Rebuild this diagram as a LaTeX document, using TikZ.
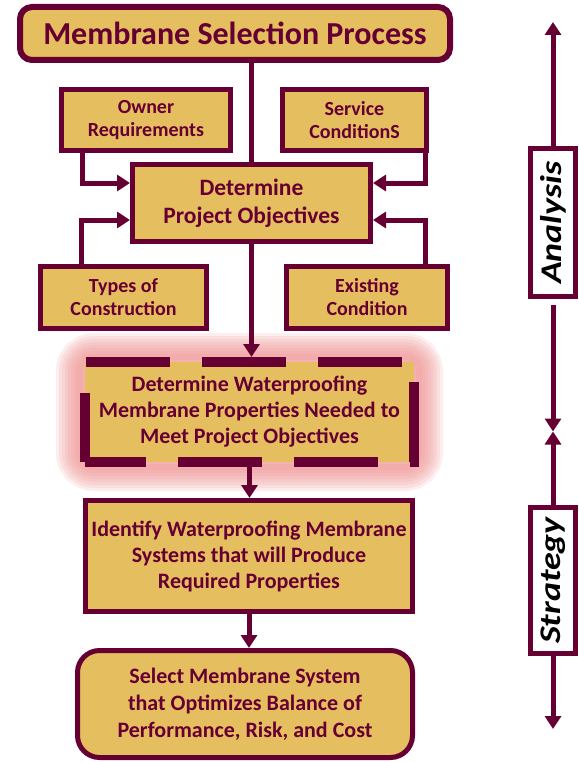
\documentclass[tikz,border=0pt]{standalone}
\usepackage{fontspec}
\setmainfont{Carlito}
\usetikzlibrary{arrows.meta,backgrounds}

\begin{document}
\begin{tikzpicture}[x=1pt, y=-1pt,
  stage/.style={draw=wine, fill=boxgold, line width=5pt, text=wine, align=center, inner sep=0pt},
  small/.style={font=\fontsize{20}{23}\selectfont\bfseries},
  large/.style={font=\fontsize{22}{26}\selectfont\bfseries},
  flow/.style={wine, line width=5pt, -{Triangle[width=16pt,length=13pt]}},
  phase/.style={draw=wine, fill=white, line width=5pt, rotate=90, inner sep=0pt,
    font=\fontsize{30}{32}\selectfont\bfseries\itshape}]
  % Define colors
  \definecolor{wine}{RGB}{102,0,51}
  \definecolor{boxgold}{RGB}{229,190,95}
  \definecolor{glowpink}{RGB}{238,140,140}

  \useasboundingbox (0,0) rectangle (578,762);

  % Title
  \node[stage, line width=6pt, rounded corners=12pt, minimum width=430pt, minimum height=53pt,
    font=\fontsize{32}{38}\selectfont\bfseries] (title) at (235,33.5) {Membrane Selection Process};

  % Inputs and objectives
  \node[stage, small, minimum width=169pt, minimum height=61pt] (owner) at (146,120) {Owner\\Requirements};
  \node[stage, small, minimum width=144pt, minimum height=61pt] (service) at (354.5,120) {Service\\ConditionS};
  \node[stage, minimum width=238pt, minimum height=77pt,
    font=\fontsize{23.5}{28}\selectfont\bfseries] (objectives) at (251.5,203) {Determine\\Project Objectives};
  \node[stage, small, minimum width=166pt, minimum height=62pt] (types) at (123.5,297.5) {Types of\\Construction};
  \node[stage, small, minimum width=161pt, minimum height=62pt] (existing) at (367,297.5) {Existing\\Condition};

  % Properties, systems, selection
  \node[stage, large, line width=10pt, dash pattern=on 84pt off 32pt, dash phase=23pt,
    minimum width=329pt, minimum height=100pt]
    (props) at (249.5,412) {Determine Waterproofing\\Membrane Properties Needed to\\Meet Project Objectives};
  \node[stage, large, minimum width=327pt, minimum height=111pt] (systems) at (249,556)
    {Identify Waterproofing Membrane\\Systems that will Produce\\Required Properties};
  \node[stage, large, rounded corners=22pt, minimum width=335pt, minimum height=107pt,
    font=\fontsize{22}{27}\selectfont\bfseries] (select) at (245,704)
    {Select Membrane System\\that Optimizes Balance of\\Performance, Risk, and Cost};

  % Glow behind the dashed box
  \begin{scope}[on background layer]
    \foreach \w in {48,42,...,6}
      \draw[glowpink, line width=\w pt, opacity=0.15, rounded corners=14pt] (props.north west) rectangle (props.south east);
  \end{scope}

  % Main flow
  \draw[wine, line width=5pt] (objectives.north) -- (objectives.north |- title.south);
  \draw[flow] (objectives.south) -- (objectives.south |- props.north);
  \draw[flow] (props.south) -- (props.south |- systems.north);
  \draw[flow] (systems.south) -- (systems.south |- select.north);

  % Side inputs
  \draw[flow] ([xshift=23.5pt]owner.south west) |- ([yshift=20pt]objectives.west);
  \draw[flow] ([xshift=-3.5pt]service.south east) |- ([yshift=20pt]objectives.east);
  \draw[flow] ([xshift=43.5pt]types.north west) |- ([yshift=-17pt]objectives.west);
  \draw[flow] ([xshift=-24.5pt]existing.north east) |- ([yshift=-17pt]objectives.east);

  % Phases
  \node[phase, minimum width=147pt, minimum height=45pt] (analysis) at (553,222.5) {\scalebox{1.2}[1]{Analysis}};
  \node[phase, minimum width=146pt, minimum height=45pt] (strategy) at (553,580.5) {\scalebox{1.2}[1]{Strategy}};
  \coordinate (top) at (553,22);
  \coordinate (turn) at (553,431.5);
  \coordinate (bottom) at (553,729);
  \draw[flow] (analysis) -- (top);
  \draw[flow, shorten <=6pt] (analysis) -- (turn);
  \draw[flow] (strategy) -- (turn);
  \draw[flow] (strategy) -- (bottom);
\end{tikzpicture}
\end{document}
